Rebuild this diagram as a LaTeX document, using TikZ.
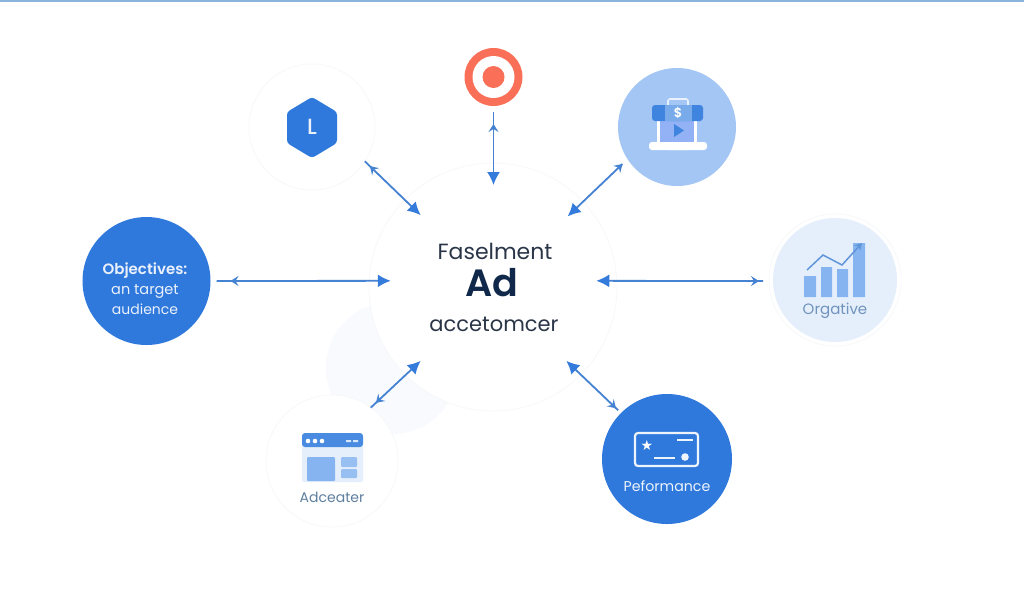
\documentclass[tikz,border=0pt]{standalone}
\usepackage{fontspec}
\setmainfont{Poppins}
\usetikzlibrary{arrows.meta,decorations.markings}
\definecolor{cblue}{HTML}{2F78DC}
\definecolor{clink}{HTML}{4582D2}
\definecolor{chead}{HTML}{357BDB}
\definecolor{cring}{HTML}{F7F8FA}
\definecolor{cmid}{HTML}{A3C6F5}
\definecolor{cpale}{HTML}{E5EFFB}
\definecolor{ccoral}{HTML}{F96F57}
\definecolor{cbar}{HTML}{85B4F0}
\definecolor{cdark}{HTML}{10284A}
\definecolor{cgrey}{HTML}{2A3648}
\definecolor{cicon}{HTML}{3F85E0}
\definecolor{cfaint}{HTML}{F8FAFE}
\definecolor{ctop}{HTML}{8AB4DC}
\definecolor{cchart}{HTML}{6F93BD}
\definecolor{cwin}{HTML}{5F7F9F}
\newcommand{\fs}[1]{\fontsize{#1}{#1}\selectfont}
\tikzset{
  disc/.style={circle,inner sep=0pt,outer sep=0pt,minimum size=#1},
  lbl/.style={inner sep=0pt,outer sep=0pt,anchor=center},
  link/.style={draw=clink,line width=1.8pt,-{Latex[length=13pt,width=13pt,color=chead]}},
  tipback/.style={postaction={decorate},decoration={markings,
    mark=at position #1 with {\arrowreversed[clink]{Stealth[length=8pt,width=10pt,inset=3pt]}}}},
}
\begin{document}
\begin{tikzpicture}[x=1pt,y=-1pt]
\useasboundingbox (0,0) rectangle (1024,614);
\fill[white] (0,0) rectangle (1024,614);
\fill[ctop] (0,0) rectangle (1024,1.6);
% faint backdrop
\fill[cfaint] (392,368) circle (66);
% hub
\node[disc=248pt,draw=cring,fill=white,line width=.8pt] (hub) at (493,287) {};
\node[disc=206pt] (core) at (493.5,288) {};
\node[lbl,text=cgrey,font=\fs{22}] (hubA) at (495,251) {Faselment};
\node[lbl,text=cdark,font=\fs{38}\fontspec{Poppins SemiBold}] (hubB) at (492,283) {Ad};
\node[lbl,text=cgrey,font=\fs{21}] (hubC) at (494,324) {accetomcer};
% objectives
\node[disc=128pt,fill=cblue] (obj) at (146.5,281) {};
\node[lbl,text=white!90!cblue,font=\fs{15}\fontspec{Poppins SemiBold}] (objA) at (145,271) {Objectives:};
\node[lbl,text=white!90!cblue,font=\fs{14.5}] (objB) at (145,291) {an target};
\node[lbl,text=white!90!cblue,font=\fs{14}] (objC) at (145,309) {audience};
% hexagon
\node[disc=126pt,draw=cring,fill=white,line width=.8pt] (hexring) at (312,127) {};
\fill[cblue,rounded corners=3pt] (312,97) -- (337,112) -- (337,143) -- (312,158) -- (287,143) -- (287,112) -- cycle;
\node[lbl,text=white!90!cblue,font=\fs{22}\fontspec{Poppins Medium}] (hexL) at (312,127) {L};
% target
\node[disc=58pt,fill=ccoral] (target) at (493.5,77) {};
\node[disc=42pt,fill=white] (targetB) at (493.5,77) {};
\node[disc=22pt,fill=ccoral] (targetC) at (493.5,77) {};
% laptop
\node[disc=118pt,fill=cmid] (lap) at (677,127) {};
\draw[white!75!cmid,line width=1.6pt,rounded corners=2pt] (668,107) -- (668,99) -- (688,99) -- (688,107);
\fill[white] (657,119) rectangle (697,144);
\fill[cmid!90!blue] (660,119) rectangle (694,143);
\fill[cicon] (674,124) -- (684,130.5) -- (674,137) -- cycle;
\fill[cicon,rounded corners=3pt] (652,121) -- (652,105) -- (703,105) -- (703,121) -- cycle;
\fill[cicon!70!white] (665,105) rectangle (692,121);
\node[lbl,text=white,font=\fs{13}\fontspec{Poppins SemiBold}] (lapS) at (678,113) {\$};
\fill[white!85!cmid] (668,150) arc[start angle=180,end angle=360,x radius=10,y radius=6] -- cycle;
\fill[white,rounded corners=3pt] (649,142) rectangle (707,150);
% chart
\node[disc=132pt,draw=cring,fill=white,line width=.8pt] (charthalo) at (835,280) {};
\node[disc=124pt,fill=cpale] (chart) at (835,280) {};
\fill[cbar] (804,276) rectangle (816,297) (821,267) rectangle (832,297) (837,269) rectangle (848,297) (853,243) rectangle (865,297);
\draw[clink!85!white,line width=1.5pt,-{Stealth[length=7pt,width=8pt]}] (807,270) -- (823,255) -- (842,265) -- (862,243);
\node[lbl,text=cchart,font=\fs{15}] (chartT) at (835,311) {Orgative};
% window
\node[disc=132pt,draw=cring,fill=white,line width=.8pt] (win) at (332,461) {};
\fill[cpale,rounded corners=2pt] (302,440) rectangle (363,482);
\fill[cicon!95!white,rounded corners=3pt] (302,447) -- (302,433) -- (363,433) -- (363,447) -- cycle;
\fill[white] (308,441) circle (2.3) (315,441) circle (2.3) (322,441) circle (2.3);
\fill[white!80!cicon] (346,440) rectangle (351,442) (353,440) rectangle (358,442);
\fill[cbar,rounded corners=1pt] (307,457) rectangle (335,481);
\fill[cbar!85!white,rounded corners=1pt] (341,457) rectangle (357,467) (341,469) rectangle (357,478);
\node[lbl,text=cwin,font=\fs{14}] (winT) at (332,497) {Adceater};
% performance
\node[disc=130pt,fill=cblue] (perf) at (667,459) {};
\draw[white!92!cblue,line width=2.2pt,rounded corners=3pt] (635,433) rectangle (698,466);
\node[lbl,text=white,font=\fs{14}\fontspec{DejaVu Sans}] (perfS) at (647,445) {★};
\draw[white!92!cblue,line width=2.4pt] (677,440) -- (693,440) (654,458) -- (675,458);
\fill[white!92!cblue] (685,457) circle (3.8);
\node[lbl,text=white!92!cblue,font=\fs{14.2}] (perfT) at (667,486) {Peformance};
% connectors
\draw[link,tipback=20pt,shorten <=6pt] (obj.0) -- (core.176);
\draw[link,tipback=14pt,shorten <=10pt] (chart.181) -- (core.4);
\draw[link,tipback=18pt,shorten <=6pt] (target.south) -- (core.north);
\draw[link,tipback=7pt] (hexring.-33.4) -- (core.135);
\draw[link,tipback=7pt,shorten <=7pt] (lap.213.9) -- (core.44.6);
\draw[link,tipback=7pt] (win.54.4) -- (core.225.8);
\draw[link,tipback=7pt,shorten <=4pt] (perf.135) -- (core.-45.4);
\end{tikzpicture}
\end{document}
